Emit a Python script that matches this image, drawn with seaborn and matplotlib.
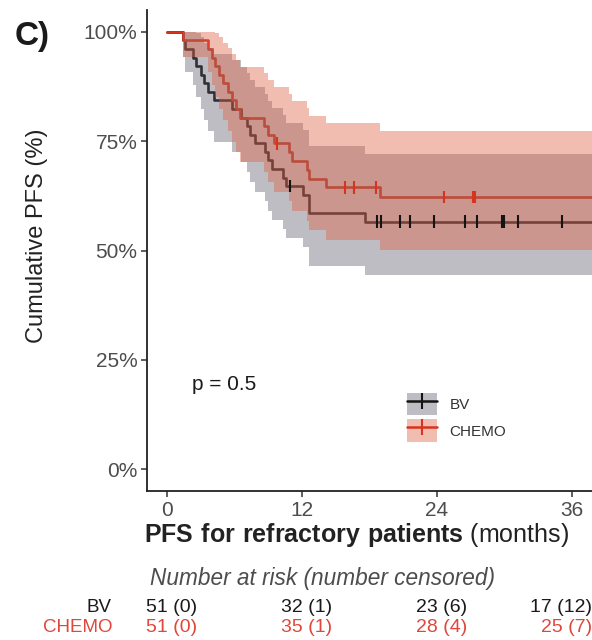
import numpy as np
import pandas as pd
import matplotlib
matplotlib.use("Agg")
import matplotlib.pyplot as plt
import matplotlib.transforms as mtransforms
from matplotlib.patches import Patch
from matplotlib.lines import Line2D
from matplotlib.legend_handler import HandlerTuple
from matplotlib.ticker import PercentFormatter
import seaborn as sns

# ---- cohort data (months) ----
arms = ["BV", "CHEMO"]
n_start = {"BV": 51, "CHEMO": 51}

bv_event_times = [1.4, 1.6, 2.3, 2.6, 3.0, 3.3, 3.6, 4.2, 5.75, 6.6, 7.1, 7.4,
                  7.8, 8.7, 9.0, 9.3, 10.3, 10.6, 12.1, 12.6, 17.6]
bv_event_counts = [1, 1, 1, 1, 1, 1, 1, 1, 1, 1, 1, 1,
                   1, 1, 1, 1, 1, 1, 1, 2, 1]
bv_censor_times = [10.9, 18.7, 19.0, 20.7, 21.6, 23.7, 26.5, 27.6, 29.75,
                   29.95, 31.2, 35.1]

chemo_event_times = [1.4, 3.67, 3.97, 4.27, 4.65, 5.0, 5.45, 5.75, 6.13, 6.49,
                     8.6, 9.0, 9.5, 10.8, 11.1, 12.4, 12.6, 14.1, 18.9]
chemo_event_counts = [1] * len(chemo_event_times)
chemo_censor_times = [9.8, 15.8, 16.6, 18.6, 24.6, 27.2, 27.4]

# risk table
risk_times = [0, 12, 24, 36]
bv_at_risk = [51, 32, 23, 17]
bv_censored = [0, 1, 6, 12]
chemo_at_risk = [51, 35, 28, 25]
chemo_censored = [0, 1, 4, 7]

p_value_text = "p = 0.5"

line_colors = {"BV": "#141414", "CHEMO": "#D8331E"}
fill_colors = {"BV": "#5C5C69", "CHEMO": "#DE5C3E"}
text_colors = {"BV": "#1A1A1A", "CHEMO": "#E0473A"}
BAND_ALPHA = 0.4

X_MIN, X_MAX = -1.8, 37.8


def kaplan_meier(n0, ev_t, ev_d, cens_t):
    """Kaplan-Meier estimate with Greenwood log-scale 95% band."""
    times = sorted(set(ev_t) | set(cens_t))
    ev = dict(zip(ev_t, ev_d))
    n, s, var = n0, 1.0, 0.0
    t_out, s_out, lo_out, hi_out = [0.0], [1.0], [1.0], [1.0]
    for t in times:
        d = ev.get(t, 0)
        c = cens_t.count(t)
        if d > 0:
            s *= 1 - d / n
            var += d / (n * (n - d))
            se = np.sqrt(var)
            t_out.append(t)
            s_out.append(s)
            lo_out.append(s * np.exp(-1.96 * se))
            hi_out.append(min(1.0, s * np.exp(1.96 * se)))
        n -= d + c
    return (np.array(t_out), np.array(s_out), np.array(lo_out), np.array(hi_out))


def surv_at(t_steps, s_steps, t):
    idx = np.searchsorted(t_steps, t, side="right") - 1
    return s_steps[idx]


fits = {
    "BV": kaplan_meier(n_start["BV"], bv_event_times, bv_event_counts, bv_censor_times),
    "CHEMO": kaplan_meier(n_start["CHEMO"], chemo_event_times, chemo_event_counts,
                          chemo_censor_times),
}
censors = {"BV": bv_censor_times, "CHEMO": chemo_censor_times}

curve_rows, cens_rows = [], []
for arm in arms:
    t, s, lo, hi = fits[arm]
    for ti, si in zip(np.append(t, X_MAX + 1), np.append(s, s[-1])):
        curve_rows.append({"time": ti, "surv": si, "arm": arm})
    for ct in censors[arm]:
        cens_rows.append({"time": ct, "surv": surv_at(t, s, ct), "arm": arm})
curve_df = pd.DataFrame(curve_rows)
cens_df = pd.DataFrame(cens_rows)

# ---- styling ----
sns.set_theme(style="ticks")
plt.rcParams["font.family"] = ["Liberation Sans", "DejaVu Sans"]
plt.rcParams["mathtext.fontset"] = "custom"
plt.rcParams["mathtext.rm"] = "Liberation Sans"
plt.rcParams["mathtext.bf"] = "Liberation Sans:bold"

fig = plt.figure(figsize=(5.92, 6.4), dpi=100)
ax = fig.add_axes([147 / 592, 1 - 491 / 640, 1 - 147 / 592, (491 - 10) / 640])

# survival curves (underneath the translucent bands)
sns.lineplot(data=curve_df, x="time", y="surv", hue="arm", palette=line_colors,
             drawstyle="steps-post", estimator=None, sort=False, linewidth=1.9,
             legend=False, ax=ax, zorder=1)

# confidence bands
for arm in arms:
    t, s, lo, hi = fits[arm]
    tt = np.append(t, X_MAX + 1)
    ax.fill_between(tt, np.append(lo, lo[-1]), np.append(hi, hi[-1]), step="post",
                    color=fill_colors[arm], alpha=BAND_ALPHA, linewidth=0, zorder=2)

# censoring ticks
sns.scatterplot(data=cens_df, x="time", y="surv", hue="arm", palette=line_colors,
                marker="|", s=80, linewidth=1.5, legend=False, ax=ax, zorder=4)

ax.set_xlim(X_MIN, X_MAX)
ax.set_ylim(-0.05, 1.05)
ax.set_xticks(risk_times)
ax.set_yticks([0, 0.25, 0.5, 0.75, 1.0])
ax.yaxis.set_major_formatter(PercentFormatter(1.0, decimals=0))
ax.tick_params(axis="both", length=4, width=1.1, color="#333333",
               labelcolor="#4D4D4D")
ax.tick_params(axis="y", labelsize=15, pad=3)
ax.tick_params(axis="x", labelsize=15, pad=3)
for side in ["left", "bottom"]:
    ax.spines[side].set_linewidth(1.3)
    ax.spines[side].set_color("#222222")
sns.despine(ax=ax)
ax.set_xlabel("")
ax.set_ylabel("")

ax.text(2.2, 0.193, p_value_text, fontsize=15, va="center", ha="left",
        color="#1A1A1A")

# legend: band swatch with a censor-tick line on top
handles = [(Patch(facecolor=fill_colors[a], alpha=BAND_ALPHA, edgecolor="none"),
            Line2D([], [], color=line_colors[a], lw=1.8, marker="|",
                   markersize=11, markeredgewidth=1.5)) for a in arms]
ax.legend(handles, arms, handler_map={tuple: HandlerTuple(ndivide=1, pad=0)},
          loc="upper left", bbox_to_anchor=(0.584, 0.204), frameon=False,
          fontsize=11, handlelength=2.0, handleheight=1.9, numpoints=1,
          labelspacing=0.25, borderpad=0, borderaxespad=0, handletextpad=0.8,
          labelcolor="#333333")

# panel tag and axis titles
fig.text(15 / 592, 1 - 37 / 640, "C)", fontsize=24, fontweight="bold",
         ha="left", va="center", color="#1A1A1A")
fig.text(37 / 592, 1 - 236 / 640, "Cumulative PFS (%)", fontsize=17,
         rotation=90, ha="center", va="center", color="#222222")
fig.text(357 / 592, 1 - 535 / 640,
         r"$\bf{PFS\ for\ refractory\ patients}$ (months)", fontsize=18,
         ha="center", va="center", color="#222222")

# number-at-risk table
fig.text(322 / 592, 1 - 578 / 640, "Number at risk (number censored)",
         fontsize=16.3, style="italic", ha="center", va="center", color="#4D4D4D")
row_y = {"BV": 1 - 608 / 640, "CHEMO": 1 - 627 / 640}
table_vals = {"BV": (bv_at_risk, bv_censored), "CHEMO": (chemo_at_risk, chemo_censored)}
blend = mtransforms.blended_transform_factory(ax.transData, fig.transFigure)
for arm in arms:
    fig.text(112 / 592, row_y[arm], arm, fontsize=13.5, ha="right", va="center",
             color=text_colors[arm])
    at_risk, cens = table_vals[arm]
    for i, (tp, nr, nc) in enumerate(zip(risk_times, at_risk, cens)):
        last = i == len(risk_times) - 1
        ax.text(X_MAX if last else tp + 0.4, row_y[arm], f"{nr} ({nc})",
                transform=blend, fontsize=14, va="center",
                ha="right" if last else "center", color=text_colors[arm],
                clip_on=False)

fig.savefig("out.png", dpi=100)
